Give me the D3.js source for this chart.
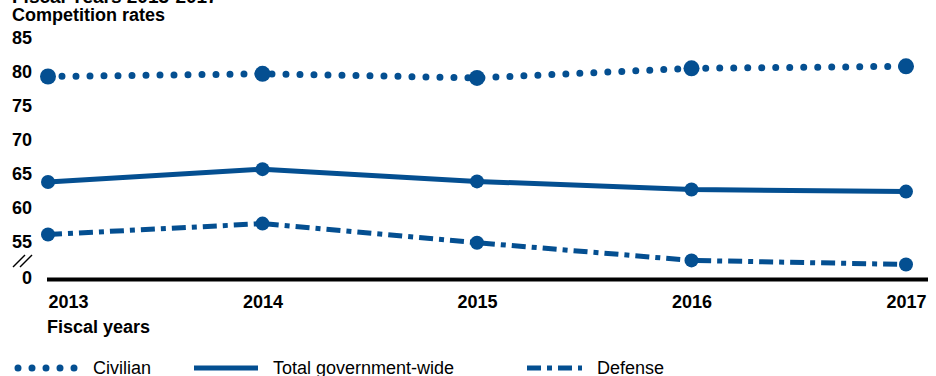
<!DOCTYPE html>
<html>
<head>
<meta charset="utf-8">
<script src="https://cdn.jsdelivr.net/npm/d3@7"></script>
<style>
  body { margin: 0; background: #fff; }
  svg text { font-family: Arial, "Liberation Sans", sans-serif; fill: #000; }
</style>
</head>
<body>
<div id="chart"></div>
<script>
// Data
const years = ["2013", "2014", "2015", "2016", "2017"];
const civilian = [79.3, 79.7, 79.1, 80.5, 80.8];
const totalGov = [63.8, 65.7, 63.9, 62.7, 62.4];
const defense = [56.1, 57.7, 54.9, 52.3, 51.7];
const yTicks = [85, 80, 75, 70, 65, 60, 55];

const width = 936, height = 376;
const blue = "#044f91";

const svg = d3.select("#chart")
    .append("svg")
    .attr("width", width)
    .attr("height", height);

// Scales
const x = d3.scalePoint()
    .domain(years)
    .range([48, 906]);
const y = d3.scaleLinear()
    .domain([55, 85])
    .range([242, 37.7]);

const axisY = 279.5;

// Title (cut off at top) and y label
svg.append("text")
    .attr("x", 12).attr("y", 3)
    .style("font-size", "19px").style("font-weight", "bold")
    .text("Fiscal Years 2013-2017");
svg.append("text")
    .attr("x", 12).attr("y", 21)
    .style("font-size", "18px").style("font-weight", "bold")
    .text("Competition rates");

// Y tick labels (no axis line)
const yAxis = svg.append("g")
    .attr("transform", "translate(32,0)")
    .call(d3.axisLeft(y).tickValues(yTicks).tickSize(0).tickPadding(0));
yAxis.select(".domain").remove();
yAxis.selectAll("text")
    .style("font-size", "18px").style("font-weight", "bold")
    .attr("font-family", null);

// zero label and axis break
svg.append("text")
    .attr("x", 32).attr("y", axisY - 2)
    .attr("text-anchor", "end").attr("dy", "0.35em")
    .style("font-size", "18px").style("font-weight", "bold")
    .text("0");
[0, 7].forEach(off => {
    svg.append("line")
        .attr("x1", 13 + off).attr("y1", 267)
        .attr("x2", 25 + off).attr("y2", 255)
        .attr("stroke", "#000").attr("stroke-width", 1.5);
});

// X axis
svg.append("line")
    .attr("x1", 47).attr("x2", 928)
    .attr("y1", axisY).attr("y2", axisY)
    .attr("stroke", "#000").attr("stroke-width", 4);

const xAxis = svg.append("g")
    .attr("transform", `translate(0,${axisY})`)
    .call(d3.axisBottom(x).tickSize(0).tickPadding(16));
xAxis.select(".domain").remove();
xAxis.selectAll("text")
    .style("font-size", "18px").style("font-weight", "bold")
    .attr("font-family", null)
    .attr("text-anchor", (d, i) => i === 0 ? "start" : i === years.length - 1 ? "end" : "middle")
    .attr("dx", (d, i) => i === years.length - 1 ? 20 : 0);

svg.append("text")
    .attr("x", 47).attr("y", 333)
    .style("font-size", "18px").style("font-weight", "bold")
    .text("Fiscal years");

// Series
const series = [
    {name: "Civilian", values: civilian, dash: "0 14", width: 7, cap: "round", r: 8},
    {name: "Total government-wide", values: totalGov, dash: null, width: 5, cap: "butt", r: 7},
    {name: "Defense", values: defense, dash: "14 6 5 6", width: 5, cap: "butt", r: 7}
];

const line = d3.line()
    .x(d => x(d.year))
    .y(d => y(d.value));

series.forEach(s => {
    const pts = years.map((yr, i) => ({year: yr, value: s.values[i]}));
    svg.append("path")
        .datum(pts)
        .attr("fill", "none")
        .attr("stroke", blue)
        .attr("stroke-width", s.width)
        .attr("stroke-linecap", s.cap)
        .attr("stroke-dasharray", s.dash)
        .attr("d", line);
    svg.selectAll(null)
        .data(pts)
        .enter().append("circle")
        .attr("cx", d => x(d.year))
        .attr("cy", d => y(d.value))
        .attr("r", s.r)
        .attr("fill", blue);
});

// Legend
const legY = 368;
const leg = [
    {x: 18, len: 62, text: "Civilian", tx: 93},
    {x: 194, len: 64, text: "Total government-wide", tx: 273},
    {x: 527, len: 55, text: "Defense", tx: 597}
];
leg.forEach((l, i) => {
    const s = series[i];
    svg.append("line")
        .attr("x1", l.x).attr("x2", l.x + l.len)
        .attr("y1", legY).attr("y2", legY)
        .attr("stroke", blue)
        .attr("stroke-width", s.width)
        .attr("stroke-linecap", s.cap)
        .attr("stroke-dasharray", s.dash);
    svg.append("text")
        .attr("x", l.tx).attr("y", legY)
        .attr("dy", "0.35em")
        .style("font-size", "18px")
        .text(l.text);
});
</script>
</body>
</html>
